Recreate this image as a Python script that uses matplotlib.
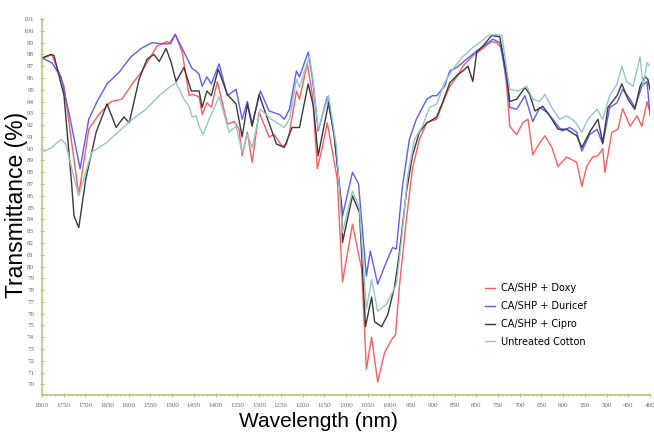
import matplotlib.pyplot as plt
from matplotlib.ticker import MultipleLocator

# FTIR spectra, wavelength (nm) vs transmittance (%)
doxy_wl = [1800, 1777, 1749, 1715, 1692, 1669, 1641, 1616, 1588, 1569, 1553, 1535, 1512, 1503,
           1493, 1477, 1454, 1438, 1461, 1445, 1431, 1420, 1410, 1396, 1373, 1357, 1346, 1339,
           1327, 1316, 1300, 1277, 1265, 1247, 1237, 1230, 1214, 1207, 1189, 1177, 1166, 1154,
           1143, 1131, 1120, 1108, 1085, 1064, 1053, 1041, 1027, 1011, 995, 986, 977, 961, 947,
           931, 914, 908, 891, 878, 861, 845, 831, 808, 785, 765, 753, 741, 730, 723, 707, 693,
           681, 670, 654, 642, 626, 612, 592, 569, 557, 546, 532, 520, 509, 504, 488, 474, 463,
           446, 430, 419, 407, 400]
doxy_t = [97.6, 98.0, 95.3, 86.1, 91.65, 92.9, 94.0, 94.2, 95.7, 96.6, 97.6, 98.7, 99.1, 98.9,
          99.7, 98.2, 94.6, 94.4, 94.5, 94.5, 92.9, 93.9, 93.5, 95.7, 92.1, 92.3, 91.65, 89.4,
          91.4, 88.85, 93.1, 91.0, 91.2, 90.2, 90.4, 91.4, 94.9, 94.2, 97.2, 94.5, 88.3, 90.2,
          92.2, 89.7, 87.4, 78.7, 83.6, 79.8, 71.3, 74.0, 70.2, 72.7, 73.8, 74.2, 78.3, 84.0, 88.3,
          90.8, 92.2, 92.3, 92.5, 93.8, 95.3, 96.1, 97.0, 97.9, 98.5, 99.1, 99.0, 98.5, 95.3, 91.9,
          91.2, 92.2, 92.5, 89.5, 90.5, 91.1, 90.1, 88.5, 89.3, 88.85, 86.8, 88.5, 89.3, 89.4,
          90.0, 88.0, 91.4, 91.65, 93.4, 91.9, 92.8, 91.9, 94.0, 93.1]

duricef_wl = [1800, 1777, 1756, 1738, 1712, 1692, 1673, 1650, 1622, 1595, 1572, 1546, 1523, 1507,
              1493, 1477, 1454, 1438, 1445, 1431, 1420, 1410, 1392, 1373, 1353, 1339, 1327, 1316,
              1297, 1277, 1253, 1242, 1230, 1214, 1207, 1187, 1177, 1164, 1143, 1127, 1108, 1085,
              1071, 1053, 1044, 1027, 1007, 993, 984, 970, 954, 938, 914, 901, 891, 873, 861, 845,
              822, 799, 776, 762, 746, 730, 723, 707, 688, 670, 654, 638, 624, 603, 585, 569, 557,
              539, 522, 509, 493, 476, 463, 446, 435, 419, 407, 400]
duricef_t = [97.7, 97.3, 96.1, 93.1, 88.3, 92.5, 94.0, 95.5, 96.5, 97.8, 98.5, 99.0, 98.9, 98.9,
             99.7, 98.5, 96.8, 96.3, 96.6, 95.3, 96.1, 95.5, 97.2, 94.5, 95.05, 92.5, 94.0, 92.1,
             94.9, 93.2, 92.9, 92.5, 93.35, 96.6, 96.1, 98.2, 95.9, 91.5, 94.4, 91.1, 84.3, 88.0,
             87.0, 79.2, 81.3, 78.5, 80.4, 81.6, 81.5, 86.8, 90.8, 92.5, 94.2, 94.5, 94.5, 95.3,
             96.6, 96.9, 97.6, 98.3, 98.9, 99.3, 99.0, 95.9, 93.5, 93.35, 94.5, 92.3, 93.5, 93.1,
             92.5, 91.5, 91.8, 91.4, 89.8, 91.2, 91.65, 90.4, 93.5, 93.9, 95.05, 94.2, 93.5, 95.3,
             95.7, 92.8]

cipro_wl = [1800, 1779, 1772, 1749, 1731, 1726, 1715, 1699, 1675, 1650, 1629, 1611, 1599, 1576,
            1558, 1542, 1530, 1514, 1503, 1491, 1473, 1456, 1438, 1445, 1431, 1420, 1410, 1394,
            1373, 1353, 1339, 1327, 1316, 1300, 1283, 1260, 1242, 1224, 1207, 1187, 1175, 1164,
            1140, 1127, 1110, 1108, 1085, 1069, 1055, 1041, 1034, 1018, 1004, 988, 977, 961, 947,
            931, 914, 908, 891, 878, 861, 845, 831, 819, 808, 799, 785, 765, 746, 730, 723, 707,
            688, 677, 665, 647, 631, 612, 592, 569, 557, 539, 520, 509, 497, 476, 465, 451, 435,
            423, 412, 405, 400]
cipro_t = [97.7, 98.0, 97.9, 94.5, 86.8, 84.3, 83.3, 87.4, 91.4, 93.8, 91.8, 92.7, 92.2, 95.9,
           97.6, 98.0, 97.4, 98.5, 97.4, 95.7, 96.9, 94.9, 94.9, 94.9, 93.5, 94.9, 94.5, 96.75,
           94.6, 93.8, 91.0, 93.8, 91.9, 94.6, 92.8, 90.4, 90.1, 91.8, 91.8, 95.5, 93.6, 89.4,
           93.9, 91.1, 85.1, 82.05, 86.0, 84.6, 74.9, 77.4, 75.3, 74.9, 75.9, 78.3, 81.2, 86.3,
           89.4, 91.4, 92.2, 92.3, 92.7, 93.9, 95.6, 96.2, 96.6, 97.0, 95.7, 98.2, 98.7, 99.6,
           99.5, 96.2, 94.0, 94.2, 95.2, 94.6, 93.2, 93.6, 92.8, 91.65, 91.65, 91.1, 90.1, 91.4,
           92.5, 90.5, 93.5, 94.5, 95.5, 94.2, 93.35, 95.3, 96.1, 95.9, 95.0]

cotton_wl = [1800, 1777, 1756, 1745, 1731, 1715, 1699, 1685, 1652, 1622, 1592, 1560, 1530, 1507,
             1491, 1473, 1454, 1438, 1461, 1445, 1429, 1415, 1392, 1369, 1353, 1339, 1327, 1316,
             1297, 1272, 1242, 1230, 1214, 1207, 1184, 1175, 1164, 1140, 1122, 1108, 1085, 1069,
             1053, 1041, 1027, 1007, 993, 984, 972, 958, 942, 924, 908, 891, 873, 854, 831, 808,
             792, 773, 758, 741, 730, 723, 704, 684, 670, 654, 642, 624, 608, 592, 573, 557, 543,
             522, 509, 493, 476, 465, 454, 439, 423, 416, 407, 400]
cotton_t = [89.7, 90.1, 90.8, 90.4, 88.3, 86.0, 88.0, 89.7, 90.5, 91.5, 92.5, 93.35, 94.5, 95.2,
            95.6, 94.2, 92.7, 91.9, 93.6, 92.8, 91.2, 92.5, 94.4, 91.4, 91.9, 89.7, 91.2, 90.1,
            93.35, 92.5, 91.8, 92.5, 95.9, 95.2, 97.9, 95.6, 91.65, 94.5, 90.2, 82.9, 86.4, 85.0,
            76.4, 78.9, 76.2, 76.8, 77.8, 78.5, 82.3, 87.7, 90.8, 91.9, 93.5, 93.8, 95.6, 96.75,
            97.8, 98.6, 99.0, 99.6, 99.7, 99.6, 96.75, 95.05, 94.9, 95.3, 94.2, 94.0, 94.6, 93.35,
            92.5, 92.8, 92.3, 91.4, 92.5, 93.35, 92.5, 94.5, 95.5, 97.0, 95.7, 95.3, 97.8, 95.3,
            97.3, 97.0]

fig = plt.figure(figsize=(6.54, 4.34), dpi=100)
ax = fig.add_axes([0.064, 0.09, 0.93, 0.866])

# sort the traced points by wavelength so each line runs left to right
def ordered(wl, t):
    pairs = sorted(zip(wl, t), reverse=True)
    return [p[0] for p in pairs], [p[1] for p in pairs]

series = [
    (doxy_wl, doxy_t, '#ff5c5c', 'CA/SHP + Doxy'),
    (duricef_wl, duricef_t, '#5c5cff', 'CA/SHP + Duricef'),
    (cipro_wl, cipro_t, '#3a3a3a', 'CA/SHP + Cipro'),
    (cotton_wl, cotton_t, '#92c6cb', 'Untreated Cotton'),
]
for wl, t, c, lab in series:
    x, y = ordered(wl, t)
    ax.plot(x, y, color=c, lw=1.0, label=lab, solid_joinstyle='round')

ax.set_xlim(1800, 400)
ax.set_ylim(69.1, 101)
ax.xaxis.set_major_locator(MultipleLocator(50))
ax.xaxis.set_minor_locator(MultipleLocator(10))
ax.yaxis.set_major_locator(MultipleLocator(1))

for s in ['top', 'right']:
    ax.spines[s].set_visible(False)
for s in ['left', 'bottom']:
    ax.spines[s].set_color('#c0c07c')
    ax.spines[s].set_linewidth(1.2)
ax.tick_params(axis='both', which='both', direction='inout', color='#c0c07c',
               labelcolor='#666666', labelsize=5, pad=4)
ax.tick_params(which='major', length=3)
ax.tick_params(which='minor', length=1.5)
for lbl in ax.get_xticklabels() + ax.get_yticklabels():
    lbl.set_family('Liberation Serif')

ax.set_xlabel('Wavelength (nm)', fontsize=15, family='Liberation Sans')
ax.set_ylabel('Transmittance (%)', fontsize=16.5, family='Liberation Sans')
ax.xaxis.set_label_coords(0.454, -0.045)
ax.yaxis.set_label_coords(-0.022, 0.505)

ax.legend(loc='upper left', bbox_to_anchor=(0.742, 0.347), bbox_transform=fig.transFigure,
          frameon=False, handlelength=1.0, handletextpad=0.6,
          labelspacing=0.8, borderpad=0, borderaxespad=0,
          prop={'family': 'DejaVu Sans', 'size': 7})

fig.savefig('out.png', dpi=100)
